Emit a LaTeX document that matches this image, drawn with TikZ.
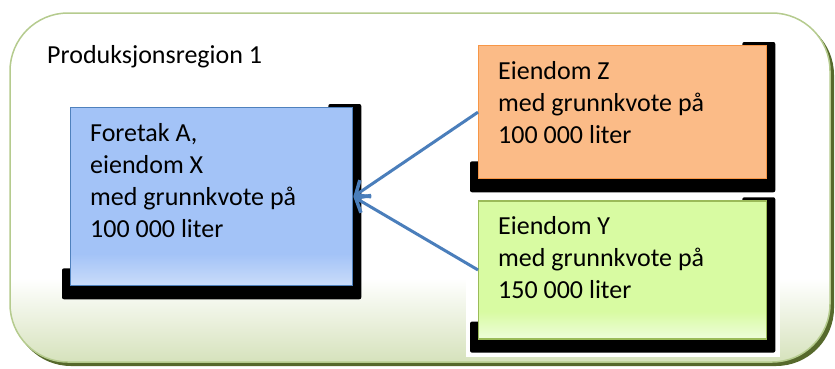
\documentclass[tikz,border=0pt]{standalone}
\usepackage{fontspec}
\setmainfont{Carlito}
\usetikzlibrary{
    positioning,   % Relative positioning
    calc,          % Coordinate calculations
    arrows.meta,   % Modern arrow tips
    backgrounds    % Background layers
}

\definecolor{regionkant}{HTML}{B5CB8E}
\definecolor{regionbunn}{HTML}{D6E2BC}
\definecolor{regionskygge}{HTML}{56692C}
\definecolor{blaa}{HTML}{A3C3F7}
\definecolor{blaalys}{HTML}{CADCFA}
\definecolor{blaakant}{HTML}{4F81BD}
\definecolor{oransje}{HTML}{FBBB87}
\definecolor{oransjekant}{HTML}{F79646}
\definecolor{groenn}{HTML}{D8FBA2}
\definecolor{groennlys}{HTML}{EEFDDA}
\definecolor{groennkant}{HTML}{9BBB59}
\definecolor{pilfarge}{HTML}{4A7EBB}

% only 25bp--75bp of a shading is seen on the path
\pgfdeclareverticalshading{regionfyll}{100bp}{color(0bp)=(regionbunn); color(25bp)=(regionbunn); color(37bp)=(white); color(100bp)=(white)}
\pgfdeclareverticalshading{blaafyll}{100bp}{color(0bp)=(blaalys); color(25bp)=(blaalys); color(34bp)=(blaa); color(100bp)=(blaa)}
\pgfdeclareverticalshading{groennfyll}{100bp}{color(0bp)=(groennlys); color(25bp)=(groennlys); color(35bp)=(groenn); color(100bp)=(groenn)}

\pgfdeclarelayer{bunn}
\pgfsetlayers{bunn,background,main}

\tikzset{
    boks/.style={draw, line width=1.3pt, inner sep=0pt, anchor=north west},
    blaaboks/.style={boks, draw=blaakant, shade, shading=blaafyll, minimum width=282pt, minimum height=178pt},
    oransjeboks/.style={boks, draw=oransjekant, fill=oransje, minimum width=288pt, minimum height=133pt},
    groennboks/.style={boks, draw=groennkant, shade, shading=groennfyll, minimum width=288pt, minimum height=138pt},
    tekst/.style={inner sep=0pt, align=left, font=\fontsize{26}{32}\selectfont},
    tittel/.style={inner sep=0pt, anchor=base west, font=\fontsize{26}{31}\selectfont},
    skyggefyll/.style={fill=black, rounded corners=2pt},
    pil/.style={draw=pilfarge, line width=3pt, -{Straight Barb[length=12pt, width=20pt, line width=3.5pt]}}
}

% black Office-like shadow behind a box
\newcommand{\skygge}[1]{%
    \fill[skyggefyll] ($(#1.north east)+(-25,-3)$) -- ($(#1.north east)+(8,-3)$)
        -- ($(#1.south east)+(8,13)$) -- ($(#1.south west)+(-8,13)$)
        -- ($(#1.south west)+(-8,-18)$) -- ($(#1.south east)+(-25,-18)$) -- cycle;}

\begin{document}
\begin{tikzpicture}[x=1pt, y=-1pt]
    \useasboundingbox (0,0) rectangle (835,368);

    % region
    \begin{pgfonlayer}{bunn}
        \fill[regionskygge, rounded corners=58pt] (13,17) rectangle (834,366);
        \draw[regionkant, line width=1.5pt, shade, shading=regionfyll, rounded corners=58pt] (10,13) rectangle (830,362);
    \end{pgfonlayer}
    \node[tittel] (region) at (47,63) {Produksjonsregion 1};

    % boxes
    \node[blaaboks] (foretak) at (70,107) {};
    \node[oransjeboks] (eiendomZ) at (478,45) {};
    \node[groennboks, below=21pt of eiendomZ] (eiendomY) {};

    % shadows
    \begin{scope}[on background layer]
        \fill[white] ($(eiendomY.north west)+(-12,0)$) rectangle ($(eiendomY.south east)+(13,17)$);
        \skygge{foretak}
        \skygge{eiendomZ}
        \skygge{eiendomY}
    \end{scope}

    % texts
    \node[tekst, below right=16pt and 20pt of foretak.north west] (foretaktekst)
        {Foretak A,\\eiendom X\\med grunnkvote på\\100 000 liter};
    \node[tekst, below right=16pt and 20pt of eiendomZ.north west] (eiendomZtekst)
        {Eiendom Z\\med grunnkvote på\\100 000 liter};
    \node[tekst, below right=16pt and 20pt of eiendomY.north west] (eiendomYtekst)
        {Eiendom Y\\med grunnkvote på\\150 000 liter};

    % arrows
    \draw[pil] (eiendomZ.west) -- (foretak.east);
    \draw[pil] (eiendomY.west) -- (foretak.east);
\end{tikzpicture}
\end{document}
